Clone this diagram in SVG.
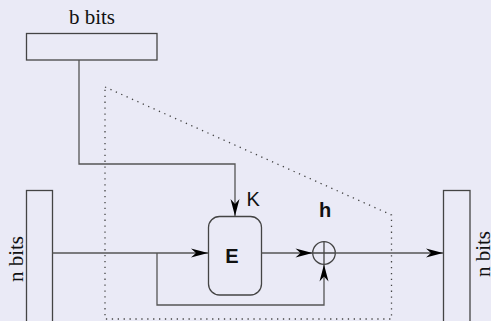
<svg xmlns="http://www.w3.org/2000/svg" width="491" height="321" viewBox="0 0 491 321">
<defs>
<style>
.box{fill:none;stroke:#444;stroke-width:1.3}
.ln{fill:none;stroke:#555;stroke-width:1.3}
.dot{fill:none;stroke:#444;stroke-width:1.3;stroke-dasharray:1.3 4.6}
.serif{font-family:"Liberation Serif","Times New Roman",serif;font-size:21px;fill:#111}
.sans{font-family:"Liberation Sans",Arial,sans-serif;font-size:20px;fill:#111}
.bold{font-weight:bold}
</style>
<marker id="ah" markerUnits="userSpaceOnUse" markerWidth="20" markerHeight="12" viewBox="-18 -6 20 12" refX="0" refY="0" orient="auto">
<path d="M0,0 L-17,-4.5 L-12,0 L-17,4.5 Z" fill="#000"/>
</marker>
</defs>
<rect width="491" height="321" fill="#eaeaf6"/>
<g id="region">
<path class="dot" d="M105,87 L391.5,215 L391.5,319 L105,319 Z"/>
</g>
<g id="b-bits">
<rect class="box" x="26.5" y="33.5" width="130.5" height="26.5"/>
<text class="serif" x="92" y="24" text-anchor="middle">b bits</text>
</g>
<g id="n-bits-in">
<rect class="box" x="26.5" y="190.5" width="26" height="135"/>
<text class="serif" transform="translate(22.5,259) rotate(-90)" text-anchor="middle">n bits</text>
</g>
<g id="n-bits-out">
<rect class="box" x="443.5" y="190.5" width="26.5" height="135"/>
<text class="serif" transform="translate(490,254) rotate(-90)" text-anchor="middle">n bits</text>
</g>
<g id="E">
<rect class="box" x="208.5" y="216.5" width="53" height="78.5" rx="11" ry="11"/>
<text class="sans bold" x="232" y="263" text-anchor="middle">E</text>
</g>
<g id="xor">
<circle class="box" cx="324" cy="253" r="11.3"/>
<path class="box" d="M312.7,253 H335.3 M324,241.7 V264.3"/>
<text class="sans bold" x="325" y="217" text-anchor="middle">h</text>
</g>
<g id="connectors">
<path class="ln" d="M79,60 V164 H235 V216" marker-end="url(#ah)"/>
<path class="ln" d="M52.5,253 H208" marker-end="url(#ah)"/>
<path class="ln" d="M157,253 V305 H324 V264.5" marker-end="url(#ah)"/>
<path class="ln" d="M261.5,253 H312.5" marker-end="url(#ah)"/>
<path class="ln" d="M335.3,253 H443" marker-end="url(#ah)"/>
<text class="sans" x="246.5" y="206">K</text>
</g>
</svg>
